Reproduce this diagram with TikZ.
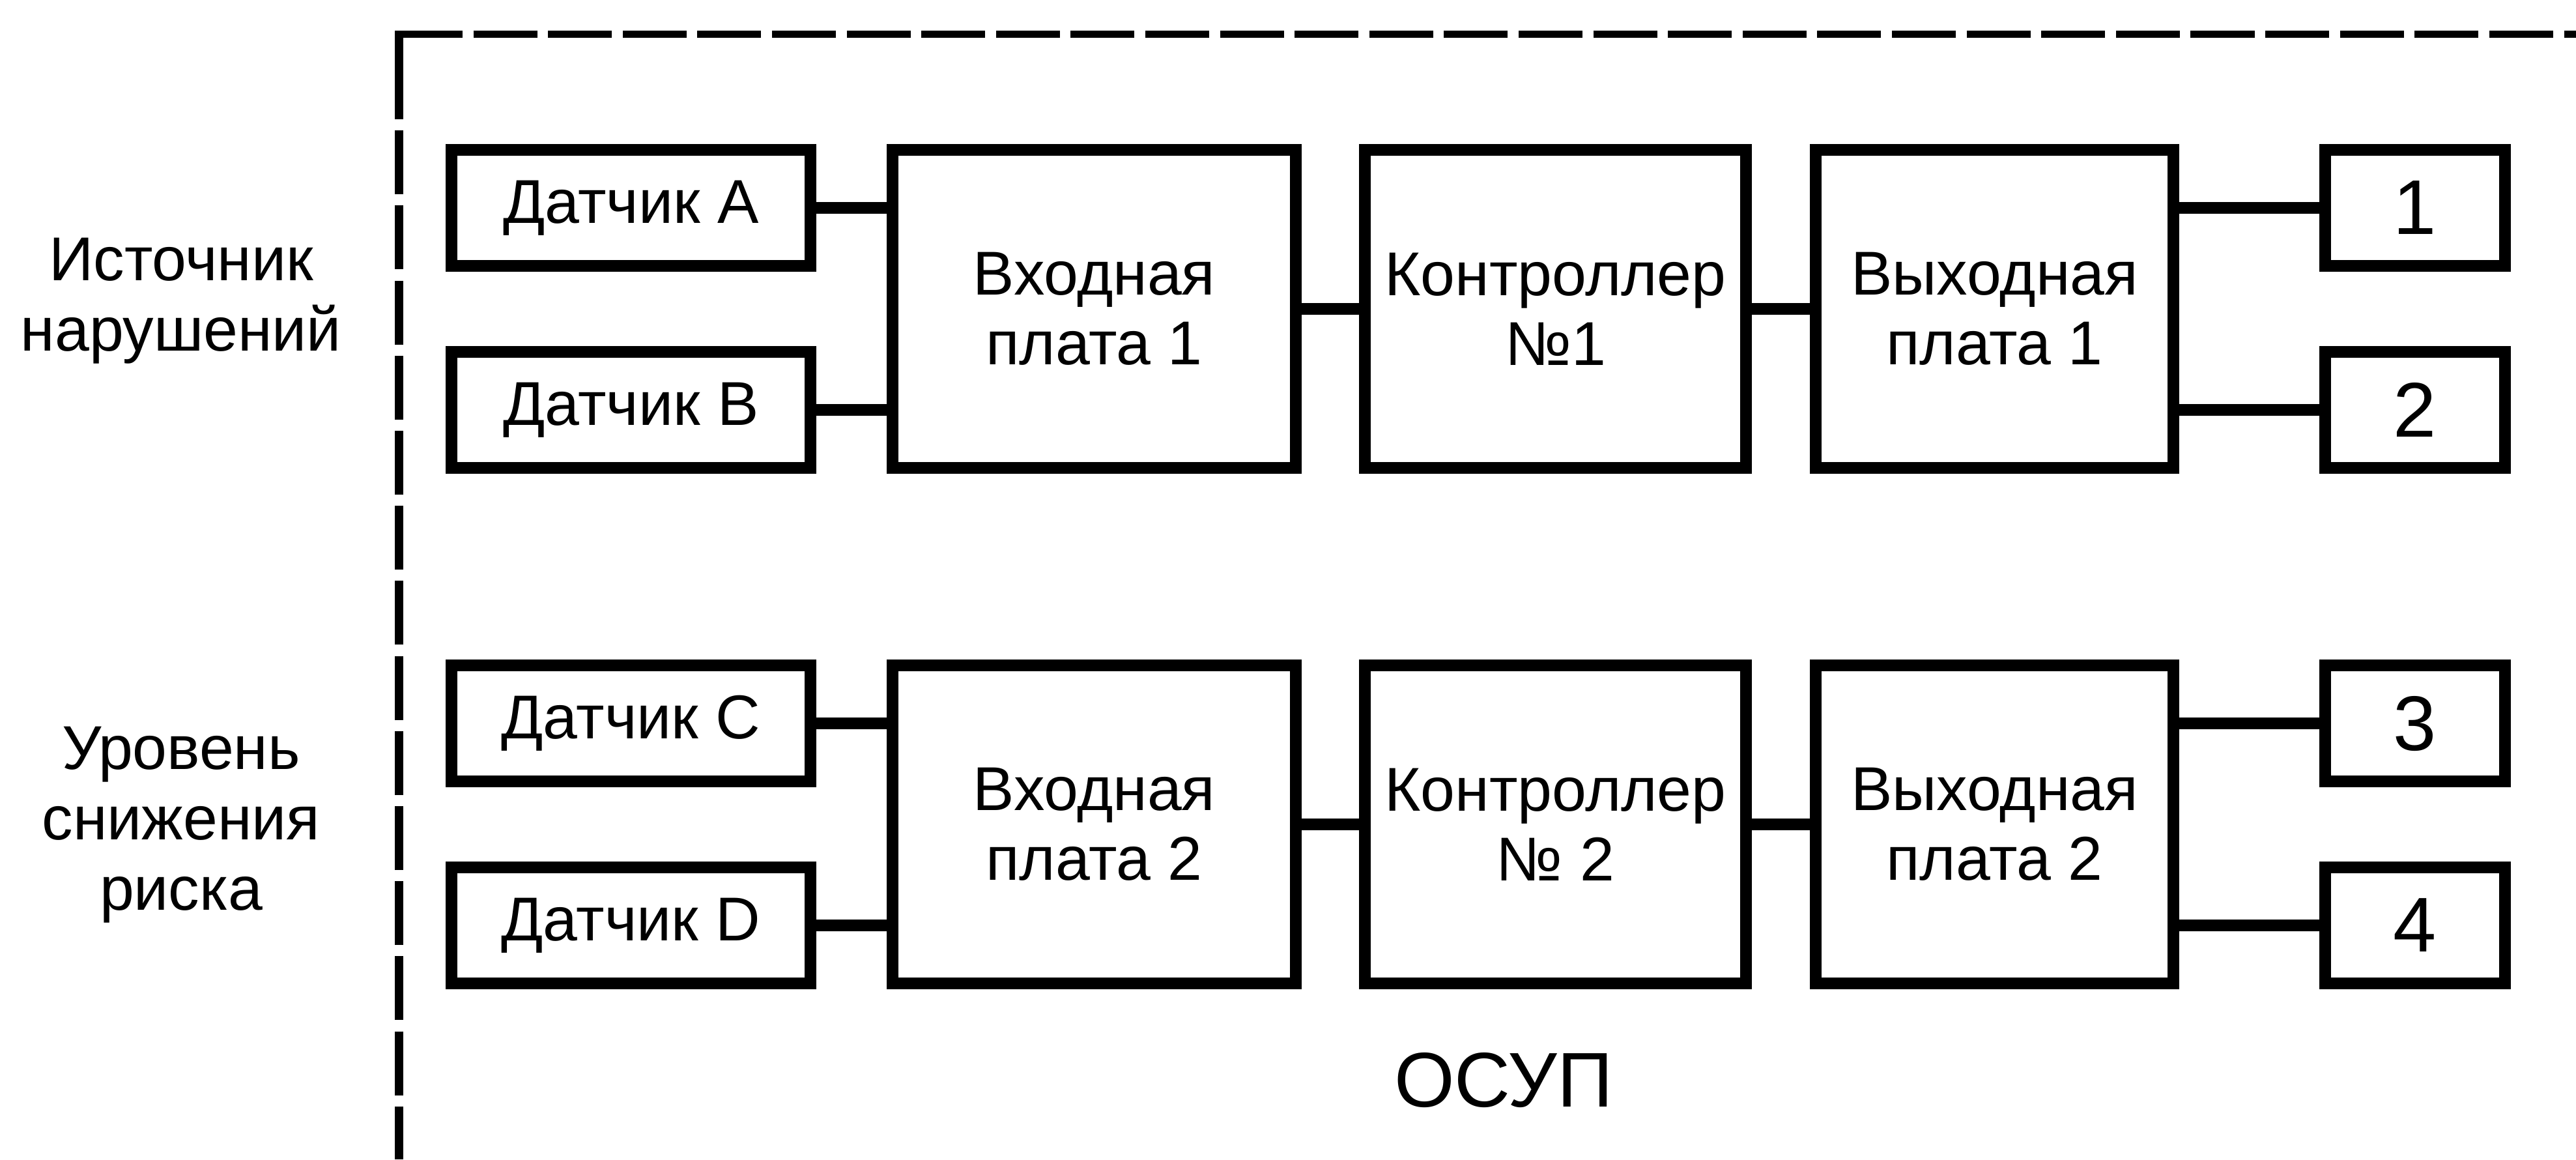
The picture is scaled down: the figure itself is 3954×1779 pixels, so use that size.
\documentclass[tikz,border=0pt]{standalone}
\usepackage{fontspec}
\setmainfont{Liberation Sans}
\tikzset{
  blk/.style={draw, line width=3.6pt, inner sep=0pt, align=center, font=\fontsize{19pt}{21.4pt}\selectfont},
  sensor/.style={blk, minimum width=110.2pt, minimum height=35.6pt},
  board/.style={blk, minimum height=97.6pt},
  outbox/.style={blk, minimum width=55.2pt, minimum height=35.6pt, font=\fontsize{23.8pt}{26pt}\selectfont},
  wire/.style={line width=3.6pt},
  lbl/.style={align=center, inner sep=0pt, font=\fontsize{19pt}{21.6pt}\selectfont},
  hframe/.style={line width=2.2pt},
  vframe/.style={line width=2.7pt}
}
\begin{document}
\begin{tikzpicture}[x=0.2pt, y=-0.2pt]
\useasboundingbox (0,0) rectangle (3954,1779);
% dashed frame (ОСУП)
\draw[vframe] (612.5,47) -- (612.5,183);
\draw[vframe, dash pattern=on 19.6pt off 3.44pt, dash phase=19.6pt] (612.5,183) -- (612.5,1779);
\draw[hframe] (606,52.5) -- (710,52.5);
\draw[hframe, dash pattern=on 19.6pt off 3.32pt, dash phase=19.6pt] (710,52.5) -- (3954,52.5);

% row 1
\node[sensor] (sA) at (968.5,319) {Датчик A};
\node[sensor] (sB) at (968.5,629) {Датчик B};
\node[board, minimum width=123.8pt] (in1) at (1679.5,474) {Входная\\плата 1};
\node[board, minimum width=117pt] (c1) at (2387.5,474) {Контроллер\\№1};
\node[board, minimum width=109.8pt] (out1) at (3061.5,474) {Выходная\\плата 1};
\node[outbox] (o1) at (3707,319) {1};
\node[outbox] (o2) at (3707,629) {2};

% row 2
\node[sensor] (sC) at (968.5,1110) {Датчик C};
\node[sensor] (sD) at (968.5,1420) {Датчик D};
\node[board, minimum width=123.8pt] (in2) at (1679.5,1265) {Входная\\плата 2};
\node[board, minimum width=117pt] (c2) at (2387.5,1265) {Контроллер\\№ 2};
\node[board, minimum width=109.8pt] (out2) at (3061.5,1265) {Выходная\\плата 2};
\node[outbox] (o3) at (3707,1110) {3};
\node[outbox] (o4) at (3707,1420) {4};

% connectors
\draw[wire] (sA.east) -- (sA.east -| in1.west);
\draw[wire] (sB.east) -- (sB.east -| in1.west);
\draw[wire] (in1.east) -- (c1.west);
\draw[wire] (c1.east) -- (out1.west);
\draw[wire] (o1.west -| out1.east) -- (o1.west);
\draw[wire] (o2.west -| out1.east) -- (o2.west);

\draw[wire] (sC.east) -- (sC.east -| in2.west);
\draw[wire] (sD.east) -- (sD.east -| in2.west);
\draw[wire] (in2.east) -- (c2.west);
\draw[wire] (c2.east) -- (out2.west);
\draw[wire] (o3.west -| out2.east) -- (o3.west);
\draw[wire] (o4.west -| out2.east) -- (o4.west);

% labels
\node[lbl] (src) at (278,461.5) {Источник\\нарушений};
\node[lbl] (lvl) at (278,1266) {Уровень\\снижения\\риска};
\node[inner sep=0pt, anchor=base, font=\fontsize{23.8pt}{26pt}\selectfont] (osup) at (2308,1698) {ОСУП};
\end{tikzpicture}
\end{document}
